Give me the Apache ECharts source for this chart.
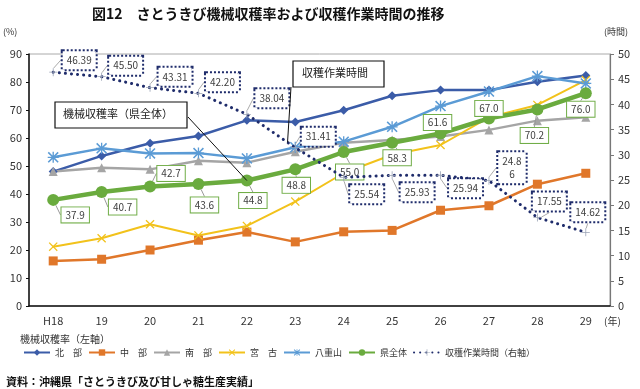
<!DOCTYPE html>
<html><head><meta charset="utf-8">
<script src="https://cdn.jsdelivr.net/npm/echarts@6/dist/echarts.min.js"></script>
<style>html,body{margin:0;padding:0;background:#fff}#c{width:640px;height:389px}</style>
</head><body><div id="c"></div>
<script>
const categories = ['H18','19','20','21','22','23','24','25','26','27','28','29'];
const hokubu   = [48.0,53.6,58.1,60.7,66.3,65.7,69.9,75.1,77.1,77.1,80.1,82.3];
const chubu    = [16.1,16.7,20.0,23.5,26.4,22.9,26.5,27.0,34.2,35.8,43.5,47.4];
const nanbu    = [48.0,49.4,48.8,51.9,51.2,55.1,58.3,59.3,60.5,62.9,66.2,67.4];
const miyako   = [21.2,24.2,29.2,25.2,28.6,37.3,47.5,54.0,57.5,67.4,71.8,80.7];
const yaeyama  = [53.1,56.3,54.5,54.6,52.7,56.7,58.7,64.0,71.4,76.6,82.1,79.5];
const kenzentai= [37.9,40.7,42.7,43.6,44.8,48.8,55.0,58.3,61.6,67.0,70.2,76.0];
const hours    = [46.39,45.50,43.31,42.20,38.04,31.41,25.54,25.93,25.94,24.86,17.55,14.62];
const leftTicks = {min:0,max:90,interval:10};
const rightTicks = {min:0,max:50,interval:5};

// label offsets (style only)
const greenOff = [[22,15],[21,15],[21,-13],[6,21],[6,20],[1,16],[6,20],[5,15],[-3,-11],[0,-10],[-3,26],[-5,16]];
const hourOff  = [[26,-12],[24,-11],[25,-11],[24,-11],[25,-16],[23,-11],[23,17],[25,17],[25,13],[23,-13],[12,-16],[2,-20]];

const FONT = '"Noto Sans CJK JP", "Noto Sans", sans-serif';
const xSym = 'path://M1,0L5,4L9,0L10,1L6,5L10,9L9,10L5,6L1,10L0,9L4,5L0,1Z';
const starSym = 'path://M4.4,0H5.6V4.4H10V5.6H5.6V10H4.4V5.6H0V4.4H4.4Z M1,0L5,4L9,0L10,1L6,5L10,9L9,10L5,6L1,10L0,9L4,5L0,1Z';
const plusSym = 'path://M4.5,0H5.5V4.5H10V5.5H5.5V10H4.5V5.5H0V4.5H4.5Z';

function lineSeries(name, data, color, symbol, size, width){
  return {name, type:'line', data, yAxisIndex:0, symbol, symbolSize:size,
    itemStyle:{color}, lineStyle:{color, width}, z:2};
}
const chart = echarts.init(document.getElementById('c'), null, {renderer:'canvas'});
const option = {
  animation:false,
  textStyle:{fontFamily:FONT},
  title:{text:'図12　さとうきび機械収穫率および収穫作業時間の推移', left:87, top:2,
    textStyle:{fontFamily:FONT, fontSize:14, fontWeight:'bold', color:'#111'}},
  grid:{left:29, right:30, top:54, bottom:83, show:true, borderColor:'#aaa', borderWidth:1},
  legend:{left:18, top:343, itemWidth:26, itemHeight:8, itemGap:6,
    textStyle:{fontSize:9, color:'#333', fontFamily:FONT},
    data:['北　部','中　部','南　部','宮　古','八重山','県全体','収穫作業時間（右軸）']},
  xAxis:{type:'category', data:categories, boundaryGap:true,
    axisLine:{lineStyle:{color:'#111', width:1.5}}, axisTick:{show:false},
    axisLabel:{fontSize:11, color:'#333', margin:9, fontFamily:FONT}},
  yAxis:[
    {type:'value', min:leftTicks.min, max:leftTicks.max, interval:leftTicks.interval, splitLine:{show:false},
      axisLine:{show:true, lineStyle:{color:'#111', width:1.5}}, axisTick:{show:true, length:3, lineStyle:{color:'#111'}},
      axisLabel:{fontSize:11, color:'#333', margin:7, fontFamily:FONT}},
    {type:'value', min:rightTicks.min, max:rightTicks.max, interval:rightTicks.interval, splitLine:{show:false},
      axisLine:{show:true, lineStyle:{color:'#777', width:1.2}}, axisTick:{show:true, length:4, lineStyle:{color:'#777'}},
      axisLabel:{fontSize:11, color:'#333', margin:8, fontFamily:FONT}}
  ],
  series:[
    lineSeries('北　部', hokubu, '#3b5ca8', 'diamond', 9, 2.5),
    lineSeries('中　部', chubu, '#e0772a', 'rect', 9, 2.5),
    lineSeries('南　部', nanbu, '#a5a5a5', 'triangle', 9, 2.5),
    lineSeries('宮　古', miyako, '#f2c21b', xSym, 9, 2),
    lineSeries('八重山', yaeyama, '#5b9bd5', starSym, 11, 2.5),
    {name:'県全体', type:'line', data:kenzentai, yAxisIndex:0, symbol:'circle', symbolSize:12, z:3,
      itemStyle:{color:'#6aab3e'}, lineStyle:{color:'#6aab3e', width:4.5},
      label:{show:true, position:'inside', formatter:p=>p.value.toFixed(1), fontSize:10, color:'#404040',
        backgroundColor:'#fff', borderColor:'#70ad47', borderWidth:1, padding:[3,4,2,4], fontFamily:FONT},
      labelLine:{show:true, lineStyle:{color:'#999', width:1}},
      labelLayout:p=>({dx:greenOff[p.dataIndex][0], dy:greenOff[p.dataIndex][1]})},
    {name:'収穫作業時間（右軸）', type:'line', data:hours, yAxisIndex:1, symbol:plusSym, symbolSize:8, z:4,
      itemStyle:{color:'#9aa3b5'}, lineStyle:{color:'#1f2c6b', width:3, type:[0.1,6], cap:'round'},
      label:{show:true, position:'inside', formatter:p=>p.dataIndex===9?'24.8\n6':p.value.toFixed(2), fontSize:10, color:'#404040',
        backgroundColor:'#fff', borderColor:'#1f2c6b', borderWidth:2, borderType:[2,2], padding:[3,4,2,4], lineHeight:13, fontFamily:FONT},
      labelLine:{show:true, lineStyle:{color:'#aaa', width:1}},
      labelLayout:p=>({dx:hourOff[p.dataIndex][0], dy:hourOff[p.dataIndex][1]})}
  ]
};
chart.setOption(option);

const g = [];
const txt = (text,x,y,size,extra)=>({type:'text', x, y, z:10, style:Object.assign({text, fontSize:size, fill:'#333', fontFamily:FONT}, extra||{})});
g.push(txt('(%)', 3, 27, 9));
g.push(txt('(時間)', 604, 27, 9));
g.push(txt('(年)', 604, 316, 10));
g.push(txt('機械収穫率（左軸）', 20, 334, 10));
g.push(txt('資料：沖縄県「さとうきび及び甘しゃ糖生産実績」', 6, 376, 11, {fill:'#111', fontWeight:'bold'}));
// callouts anchored to data points
const p22 = chart.convertToPixel({xAxisIndex:0, yAxisIndex:0}, [4, kenzentai[4]]);
const pA = chart.convertToPixel({xAxisIndex:0, yAxisIndex:1}, [4, hours[4]]);
const pB = chart.convertToPixel({xAxisIndex:0, yAxisIndex:1}, [5, hours[5]]);
const t = 0.84; const pH = [pA[0]+(pB[0]-pA[0])*t, pA[1]+(pB[1]-pA[1])*t];
g.push({type:'line', z:10, shape:{x1:188, y1:117, x2:p22[0], y2:p22[1]}, style:{stroke:'#111', lineWidth:1}});
g.push({type:'rect', z:10, shape:{x:55, y:102, width:132, height:26}, style:{fill:'#fff', stroke:'#111', lineWidth:1.2}});
g.push(txt('機械収穫率（県全体）', 63, 108, 11, {fill:'#222'}));
g.push({type:'line', z:10, shape:{x1:291, y1:87, x2:pH[0], y2:pH[1]}, style:{stroke:'#111', lineWidth:1}});
g.push({type:'rect', z:10, shape:{x:293, y:61, width:91, height:26}, style:{fill:'#fff', stroke:'#111', lineWidth:1.2}});
g.push(txt('収穫作業時間', 302, 67, 11, {fill:'#222'}));
chart.setOption({graphic:g});
</script></body></html>
